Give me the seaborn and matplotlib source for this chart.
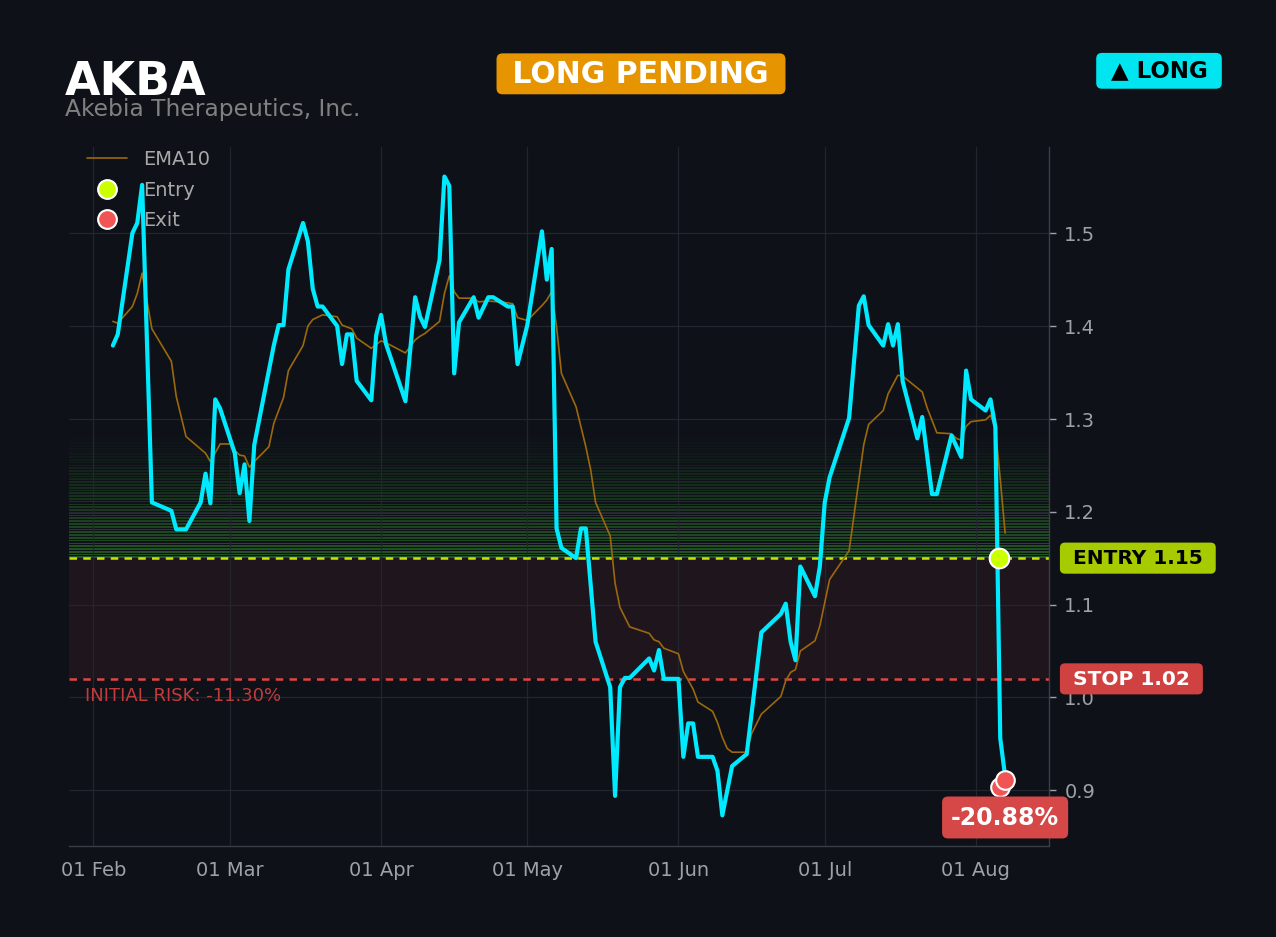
import pandas as pd
import numpy as np
import matplotlib
matplotlib.use("Agg")
import matplotlib.pyplot as plt
import matplotlib.dates as mdates
from matplotlib.lines import Line2D
import seaborn as sns

# Price data (closing prices, vertices)
year = "2025"
price_dates = ["02-05", "02-06", "02-09", "02-10", "02-11", "02-13", "02-17", "02-18", "02-20", "02-23", "02-24", "02-25", "02-26", "02-27",
               "03-02", "03-03", "03-04", "03-05", "03-06", "03-10", "03-11", "03-12", "03-13", "03-16", "03-17", "03-18", "03-19", "03-20",
               "03-23", "03-24", "03-25", "03-26", "03-27", "03-30", "03-31",
               "04-01", "04-02", "04-06", "04-08", "04-09", "04-10", "04-13", "04-14", "04-15", "04-16", "04-17", "04-20", "04-21", "04-23",
               "04-24", "04-27", "04-28", "04-29",
               "05-01", "05-04", "05-05", "05-06", "05-07", "05-08", "05-11", "05-12", "05-13", "05-15", "05-18", "05-19", "05-20", "05-21",
               "05-22", "05-26", "05-27", "05-28", "05-29",
               "06-01", "06-02", "06-03", "06-04", "06-05", "06-08", "06-09", "06-10", "06-12", "06-15", "06-18", "06-22", "06-23", "06-24",
               "06-25", "06-26", "06-29", "06-30",
               "07-01", "07-02", "07-06", "07-08", "07-09", "07-10", "07-13", "07-14", "07-15", "07-16", "07-17", "07-20", "07-21", "07-23",
               "07-24", "07-27", "07-29", "07-30", "07-31",
               "08-03", "08-04", "08-05", "08-06", "08-07"]
close = [1.379, 1.391, 1.500, 1.511, 1.552, 1.210, 1.201, 1.181, 1.181, 1.210, 1.241, 1.209, 1.321, 1.311,
         1.263, 1.220, 1.251, 1.190, 1.272, 1.379, 1.401, 1.401, 1.461, 1.511, 1.491, 1.440, 1.421, 1.421,
         1.400, 1.359, 1.391, 1.391, 1.341, 1.320, 1.390,
         1.412, 1.381, 1.319, 1.431, 1.410, 1.399, 1.471, 1.561, 1.551, 1.349, 1.404, 1.431, 1.409, 1.431,
         1.431, 1.421, 1.421, 1.359,
         1.401, 1.502, 1.450, 1.483, 1.182, 1.161, 1.150, 1.182, 1.182, 1.060, 1.011, 0.894, 1.011, 1.021,
         1.021, 1.042, 1.029, 1.051, 1.020,
         1.020, 0.936, 0.972, 0.972, 0.936, 0.936, 0.921, 0.873, 0.926, 0.939, 1.070, 1.090, 1.101, 1.060,
         1.040, 1.141, 1.109, 1.141,
         1.210, 1.237, 1.301, 1.422, 1.432, 1.401, 1.379, 1.402, 1.379, 1.402, 1.340, 1.279, 1.302, 1.219,
         1.219, 1.282, 1.259, 1.352, 1.321,
         1.309, 1.321, 1.291, 0.956, 0.915]

# EMA10 line
ema_dates = ["02-05", "02-06", "02-09", "02-10", "02-11", "02-13", "02-17", "02-18", "02-20", "02-24",
             "02-25", "02-27", "03-01", "03-02", "03-03", "03-04", "03-05", "03-06", "03-09", "03-10",
             "03-12", "03-13", "03-16", "03-17", "03-18", "03-20", "03-23", "03-24", "03-26", "03-27",
             "03-30", "04-01", "04-02", "04-06", "04-08", "04-09", "04-10", "04-13", "04-14", "04-15",
             "04-16", "04-17", "04-20", "04-21", "04-23", "04-27", "04-28", "04-29", "05-01", "05-04",
             "05-05", "05-06", "05-07", "05-08", "05-11", "05-13", "05-14", "05-15", "05-18", "05-19",
             "05-20", "05-22", "05-26", "05-27", "05-28", "05-29", "06-01", "06-02", "06-04", "06-05",
             "06-08", "06-09", "06-10", "06-11", "06-12", "06-15", "06-16", "06-18", "06-22", "06-23",
             "06-24", "06-25", "06-26", "06-29", "06-30", "07-02", "07-06", "07-09", "07-10", "07-13",
             "07-14", "07-16", "07-17", "07-21", "07-22", "07-24", "07-27", "07-28", "07-29", "07-30",
             "07-31", "08-03", "08-04", "08-05", "08-06", "08-07"]
ema10 = [1.405, 1.403, 1.421, 1.435, 1.457, 1.397, 1.362, 1.324, 1.281, 1.263,
         1.254, 1.273, 1.273, 1.266, 1.261, 1.260, 1.248, 1.254, 1.270, 1.295,
         1.323, 1.352, 1.379, 1.400, 1.407, 1.412, 1.410, 1.401, 1.397, 1.387,
         1.376, 1.384, 1.382, 1.371, 1.385, 1.389, 1.392, 1.405, 1.435, 1.454,
         1.437, 1.430, 1.430, 1.426, 1.427, 1.425, 1.424, 1.409, 1.406, 1.422,
         1.428, 1.437, 1.399, 1.349, 1.313, 1.270, 1.245, 1.210, 1.174, 1.123,
         1.097, 1.076, 1.069, 1.062, 1.060, 1.053, 1.047, 1.028, 1.009, 0.995,
         0.985, 0.973, 0.957, 0.945, 0.941, 0.941, 0.961, 0.982, 1.001, 1.018,
         1.027, 1.030, 1.050, 1.061, 1.077, 1.127, 1.158, 1.272, 1.294, 1.309,
         1.327, 1.347, 1.346, 1.329, 1.312, 1.285, 1.284, 1.279, 1.277, 1.292,
         1.297, 1.299, 1.304, 1.290, 1.235, 1.177]

entry_date = ["08-05 18:00"]
entry_price = [1.15]
exit_dates = ["08-06", "08-07"]
exit_prices = [0.903, 0.911]

entry_level = 1.15
stop_level = 1.02
initial_risk = -11.30
trade_return = -20.88

df_price = pd.DataFrame({"date": pd.to_datetime([f"{year}-{d}" for d in price_dates]), "close": close})
df_ema = pd.DataFrame({"date": pd.to_datetime([f"{year}-{d}" for d in ema_dates]), "ema": ema10})
df_entry = pd.DataFrame({"date": pd.to_datetime([f"{year}-{d}" for d in entry_date]), "price": entry_price})
df_exit = pd.DataFrame({"date": pd.to_datetime([f"{year}-{d}" for d in exit_dates]), "price": exit_prices})

bg = "#0e1118"
grid_c = "#22262e"
text_gray = "#9ea2a8"

sns.set_theme(style="dark", rc={"axes.facecolor": bg, "figure.facecolor": bg})
plt.rcParams["font.family"] = ["DejaVu Sans"]

fig = plt.figure(figsize=(12.76, 9.372), dpi=100)
ax = fig.add_axes([69 / 1276, 1 - 846 / 937, 980 / 1276, 699 / 937])
ax.set_facecolor(bg)

# zones: risk area and the fading green band above the entry
ax.axhspan(stop_level, entry_level, color="#e05060", alpha=0.08, lw=0, zorder=0)
n = 45
top = 1.285
h = (top - entry_level) / n
for i in range(n):
    lo = entry_level + i * h
    ax.axhspan(lo, lo + h * 0.6, color="#3fa535", alpha=0.45 * (1 - i / n) ** 1.1, lw=0, zorder=0)

ax.axhline(entry_level, color="#c8e600", lw=1.8, dashes=(3, 2.5), zorder=2)
ax.axhline(stop_level, color="#e04444", lw=1.8, dashes=(3, 2.5), zorder=2)

sns.lineplot(data=df_ema, x="date", y="ema", ax=ax, color="#9c680c", lw=1.2, zorder=3)
sns.lineplot(data=df_price, x="date", y="close", ax=ax, color="#00eaff", lw=3, zorder=4)
sns.scatterplot(data=df_entry, x="date", y="price", ax=ax, color="#ccff00", s=200,
                edgecolor="white", linewidth=1.5, zorder=6)
sns.scatterplot(data=df_exit, x="date", y="price", ax=ax, color="#f05454", s=180,
                edgecolor="white", linewidth=1.5, zorder=6)

ax.set_xlim(pd.Timestamp(f"{year}-01-27"), pd.Timestamp(f"{year}-08-16"))
ax.set_ylim(0.840, 1.593)
ax.set_xlabel("")
ax.set_ylabel("")

ax.xaxis.set_major_locator(mdates.MonthLocator())
ax.xaxis.set_major_formatter(mdates.DateFormatter("%d %b"))
ax.set_yticks([0.9, 1.0, 1.1, 1.2, 1.3, 1.4, 1.5])
ax.yaxis.set_major_formatter(matplotlib.ticker.FormatStrFormatter("%.1f"))
ax.yaxis.tick_right()
ax.tick_params(axis="both", colors=text_gray, labelsize=14, length=5, width=1, direction="out")
ax.tick_params(axis="x", pad=6)
ax.tick_params(axis="y", pad=6)
ax.grid(True, color=grid_c, lw=0.9)

for s in ["top", "left"]:
    ax.spines[s].set_visible(False)
for s in ["bottom", "right"]:
    ax.spines[s].set_visible(True)
    ax.spines[s].set_color("#3a3e46")
    ax.spines[s].set_linewidth(1)

# legend
handles = [
    Line2D([0], [0], color="#9c680c", lw=1.2),
    Line2D([0], [0], marker="o", ls="none", markersize=13.5, markerfacecolor="#ccff00", markeredgecolor="white", markeredgewidth=1.5),
    Line2D([0], [0], marker="o", ls="none", markersize=13.5, markerfacecolor="#f05454", markeredgecolor="white", markeredgewidth=1.5),
]
leg = ax.legend(handles, ["EMA10", "Entry", "Exit"], loc="upper left", bbox_to_anchor=(0.0, 1.021),
                frameon=False, fontsize=14, labelcolor="#a8a8a8", handlelength=2.1,
                handletextpad=0.8, labelspacing=0.6)

# level labels
trans = matplotlib.transforms.blended_transform_factory(ax.transAxes, ax.transData)
ax.text(1.0173, entry_level, " ENTRY 1.15 ", transform=trans, ha="left", va="center",
        fontsize=14.5, fontweight="bold", color="black",
        bbox=dict(boxstyle="round,pad=0.3,rounding_size=0.25", fc="#a6cc00", ec="none"), zorder=10, clip_on=False)
ax.text(1.0173, stop_level, " STOP 1.02 ", transform=trans, ha="left", va="center",
        fontsize=14.5, fontweight="bold", color="white",
        bbox=dict(boxstyle="round,pad=0.3,rounding_size=0.25", fc="#d04242", ec="none"), zorder=10, clip_on=False)
ax.annotate(f"INITIAL RISK: {initial_risk:.2f}%", xy=(0.016, stop_level), xycoords=trans,
            xytext=(0, -17), textcoords="offset pixels", ha="left", va="center",
            fontsize=13, color="#c23c3c")

ax.annotate(f"{trade_return:.2f}%", xy=(df_exit["date"].iloc[-1], df_exit["price"].iloc[0]),
            xytext=(0, -30), textcoords="offset pixels", ha="center", va="center",
            fontsize=17, fontweight="bold", color="white",
            bbox=dict(boxstyle="round,pad=0.38,rounding_size=0.25", fc="#d64848", ec="none"), zorder=10)

# header
fig.text(65 / 1276, 1 - 82 / 937, "AKBA", fontsize=33, fontweight="bold", color="white", va="center", ha="left")
fig.text(65 / 1276, 1 - 109 / 937, "Akebia Therapeutics, Inc.", fontsize=16.8, color="#808080", va="center", ha="left")
fig.text(641 / 1276, 1 - 74 / 937, " LONG PENDING ", fontsize=21.5, fontweight="bold", color="white", ha="center", va="center",
         bbox=dict(boxstyle="round,pad=0.2,rounding_size=0.2", fc="#e69500", ec="none"))
fig.text(1159 / 1276, 1 - 71 / 937, " ▲ LONG ", fontsize=16.5, fontweight="bold", color="black", ha="center", va="center",
         bbox=dict(boxstyle="round,pad=0.28,rounding_size=0.25", fc="#00e5f0", ec="none"))

fig.savefig("out.png", dpi=100, facecolor=bg)
